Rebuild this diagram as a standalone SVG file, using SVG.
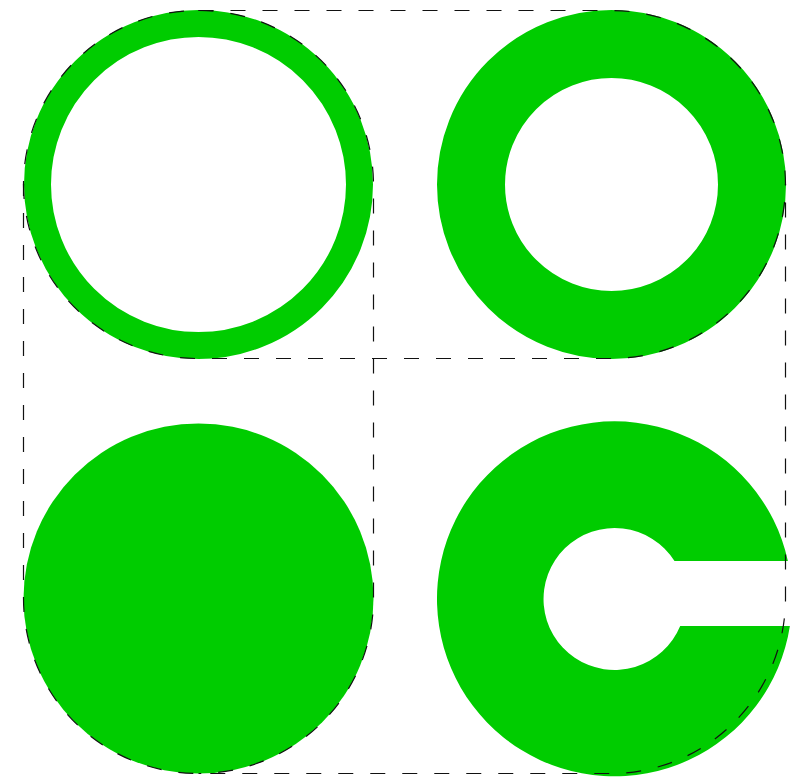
<svg xmlns="http://www.w3.org/2000/svg" width="791" height="778" viewBox="0 0 791 778">
  <style>
    .g { fill: #00cc00; }
    .ring { fill: none; stroke: #00cc00; }
    .guide { fill: none; stroke: #111; stroke-width: 1.2; stroke-dasharray: 15 17; }
  </style>
  <rect width="791" height="778" fill="#fff"/>
  <g id="ring-thin">
    <circle class="ring" cx="198.5" cy="184.5" r="161" stroke-width="27"/>
  </g>
  <g id="ring-thick">
    <circle class="ring" cx="611.5" cy="184.5" r="140.5" stroke-width="68"/>
  </g>
  <g id="disc">
    <circle class="g" cx="198.5" cy="598.5" r="175"/>
  </g>
  <g id="c-shape">
    <path class="g" d="M787.9,561 A177.5,177.5 0 1 0 789.9,626 L680.2,626 A71,71 0 1 1 674.5,561 Z"/>
  </g>
  <g id="guides">
    <path class="guide" d="M198.5,10.5 H610.5 A174.5,174.5 0 0 1 785.5,185 V598.5 A175,175 0 0 1 610.5,773.5 H198.5 A175,175 0 0 1 23.5,598.5 V185 A174.5,174.5 0 0 1 198.5,10.5 Z"/>
    <path class="guide" d="M23.5,184 A174.5,174.5 0 0 0 198.5,358.5 H610.5 A174.5,174.5 0 0 0 785.5,184"/>
    <path class="guide" d="M198.5,10.5 A174.5,174.5 0 0 1 373.5,185 V598.5 A175,175 0 0 1 198.5,773.5"/>
  </g>
</svg>
